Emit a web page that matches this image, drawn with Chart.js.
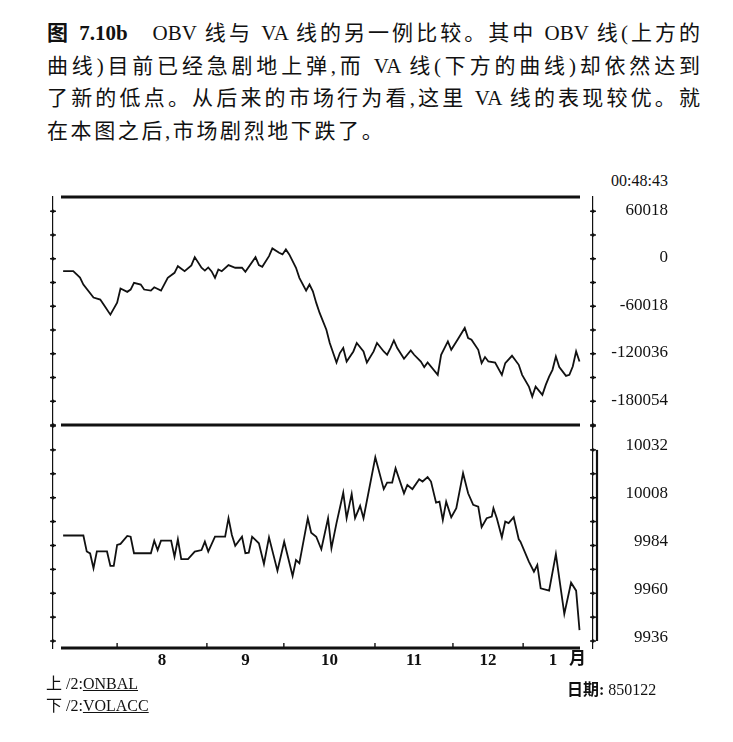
<!DOCTYPE html>
<html>
<head>
<meta charset="utf-8">
<script src="https://cdn.jsdelivr.net/npm/chart.js@4.4.1/dist/chart.umd.min.js"></script>
<style>
  body { margin: 0; background: #fff; width: 733px; height: 742px; overflow: hidden; position: relative;
         color: #111; font-family: "Liberation Serif", "Noto Sans CJK SC", serif; }
  #title { position: absolute; left: 47px; top: 17px; width: 653px; font-size: 21px; line-height: 32.7px; }
  #title .j { text-align: justify; text-align-last: justify; }
  #title .l { letter-spacing: 2.6px; }
  canvas { position: absolute; left: 0; }
  .t { position: absolute; font-size: 16px; line-height: 18px; white-space: nowrap; }
</style>
</head>
<body>
<div id="title">
  <div class="j"><b>图 7.10b</b>&nbsp;&nbsp; OBV 线与 VA 线的另一例比较。其中 OBV 线(上方的</div>
  <div class="j">曲线)目前已经急剧地上弹,而 VA 线(下方的曲线)却依然达到</div>
  <div class="j">了新的低点。从后来的市场行为看,这里 VA 线的表现较优。就</div>
  <div class="l">在本图之后,市场剧烈地下跌了。</div>
</div>
<div class="t" style="right:65px; top:172px;">00:48:43</div>
<canvas id="obv" width="733" height="252" style="top:185px; width:733px; height:252px;"></canvas>
<canvas id="va" width="733" height="268" style="top:414px; width:733px; height:268px;"></canvas>
<div class="t" style="left:569px; top:650px; font-size:17px; font-weight:bold;">月</div>
<div class="t" style="left:46px; top:675px;">上 /2:<u>ONBAL</u></div>
<div class="t" style="left:46px; top:697px;">下 /2:<u>VOLACC</u></div>
<div class="t" style="left:567px; top:681px;"><b>日期:</b> 850122</div>
<script>
// x runs in trading-day units from the first bar of the plot
const monthLabels = ['8', '9', '10', '11', '12', '1'];
const monthStarts = [16, 42.6, 65.4, 92.4, 115.5, 136.3];
const lastDay = 154;

const obvStep = 30009;
const obvTickLabels = [60018, 0, -60018, -120036, -180054];
const vaStep = 12;
const vaTickLabels = [10032, 10008, 9984, 9960, 9936];

// upper curve: ONBAL (OBV)
const obvDays = [
  0, 3, 5, 6, 9, 11, 12, 14, 16, 17,
  19, 20, 21, 23, 24, 26, 27, 29, 31, 33,
  34, 36, 38, 39, 41, 42, 43, 44, 45, 46,
  47, 49, 51, 53, 54, 57, 58, 59, 61, 62,
  64, 65, 66, 67, 69, 70, 72, 73, 74, 75,
  76, 78, 79, 81, 82, 83, 84, 86, 87, 89,
  90, 92, 93, 95, 96, 97, 98, 99, 101, 103,
  104, 106, 107, 108, 111, 112, 114, 115, 117, 119,
  120, 121, 123, 124, 125, 126, 128, 130, 131, 133,
  135, 136, 138, 139, 140, 142, 143, 144, 145, 146,
  147, 149, 150, 151, 152, 153
];
const obvValues = [
  -15720, -15720, -23710, -32580, -49060, -51600, -57940, -70620, -55400, -37650,
  -41840, -38920, -30430, -32580, -38920, -40190, -36010, -40190, -24090, -17750,
  -9380, -15720, -8490, 2030, -11410, -15000, -11000, -16000, -24090, -13570,
  -15720, -8110, -11410, -11410, -16480, 2030, -8110, -10140, 3300, 13060,
  7610, 5450, 11790, 5450, -11410, -24090, -40190, -32580, -41080, -55780,
  -68460, -89630, -106500, -131090, -119170, -112830, -129820, -117140, -106500, -117140,
  -131090, -117140, -106500, -117140, -121330, -112830, -103200, -112830, -126400, -115880,
  -121330, -129820, -136920, -131090, -146680, -121330, -104470, -114990, -101420, -87480,
  -100160, -102310, -114990, -131850, -124240, -129820, -131090, -146680, -131850, -122600,
  -134010, -146680, -161520, -174190, -161520, -172040, -159360, -148840, -140340, -123480,
  -136920, -147950, -146680, -136160, -117140, -129820
];

// lower curve: VOLACC (VA)
const vaDays = [
  0, 6, 7, 8, 9, 10, 13, 14, 15, 16,
  17, 19, 20, 21, 26, 27, 28, 29, 32, 33,
  34, 35, 37, 39, 41, 42, 43, 45, 48, 49,
  50, 51, 53, 54, 55, 56, 58, 59.5, 61, 63.5,
  65.5, 68, 69, 70, 72.5, 73.5, 75, 76.5, 78.5, 79.5,
  81, 83, 84, 85.5, 86.5, 88, 89, 92.5, 95, 96,
  97.5, 98.5, 101, 102, 103.5, 105.5, 106.5, 108, 109, 110.5,
  111.5, 112.5, 113.5, 115, 116.5, 118.5, 120, 121.5, 123, 124,
  125.5, 127, 127.5, 128.5, 130, 131, 132, 133.5, 135, 135.5,
  138, 139.5, 140.5, 141.5, 144, 146, 148.5, 150.5, 152, 153
];
const vaValues = [
  9989, 9989, 9981, 9980, 9972.6, 9981, 9981, 9973.7, 9973.7, 9984.3,
  9984.8, 9988.8, 9988.4, 9980.1, 9980.1, 9986.4, 9981.7, 9986.4, 9986.4, 9978.4,
  9987.1, 9977.1, 9977.1, 9980.9, 9981.7, 9985.9, 9980.9, 9988.4, 9988.4, 9997.7,
  9989.3, 9983.8, 9988.4, 9980.1, 9980.4, 9988.4, 9985.1, 9974.7, 9988.1, 9971.3,
  9985.9, 9968.7, 9976.7, 9975.1, 9997.7, 9990.4, 9988.4, 9982.1, 9997.7, 9982.6,
  9995.2, 10010.5, 9997.7, 10009.9, 9997.7, 10003.9, 9997.7, 10028.3, 10012.3, 10015.6,
  10015.6, 10022.8, 10010.2, 10014.4, 10012.3, 10017.3, 10016.1, 10018.3, 10016.1, 10005.5,
  10006, 9996.8, 10006, 9998.2, 10002.7, 10020.3, 10010.2, 10004.4, 10003.5, 9993.2,
  9997.7, 9998.5, 10002.7, 9997.7, 9988.1, 9996, 9995.2, 9998.2, 9987.1, 9985.9,
  9975.9, 9970.8, 9974.2, 9962.5, 9961.3, 9979.7, 9949.6, 9965.3, 9961.3, 9941.5
];

const monthMids = monthStarts.map((m, i) => (m + (monthStarts[i + 1] ?? lastDay)) / 2);

const ink = '#111';
const serif = 'Liberation Serif';

function yScale(pos, min, max, step, labels, lift) {
  return {
    position: pos, min: min, max: max,
    grid: { display: false },
    border: { display: true, color: ink, width: 1.2, dash: [3, 2] },
    // every multiple of the step inside the range gets a mark
    afterBuildTicks: s => {
      const first = Math.ceil(min / step - 1e-9);
      const ticks = [];
      for (let k = first; k * step <= max; k++) ticks.push({ value: k * step });
      s.ticks = ticks;
    },
    ticks: {
      autoSkip: false, crossAlign: 'far', padding: 0, labelOffset: lift,
      color: ink, font: { family: serif, size: 17 },
      callback: v => (pos === 'right' && labels.includes(v)) ? String(v) : ''
    },
    afterFit: s => { s.width = pos === 'right' ? 75 : 53; }
  };
}

// thick rules, cross tick marks on the dashed axes, month marks
const frame = {
  id: 'frame',
  afterDraw(chart, args, o) {
    const { ctx, chartArea: a, scales } = chart;
    ctx.save();
    ctx.strokeStyle = ink;
    ctx.fillStyle = ink;
    ctx.lineWidth = 3;
    o.rules.forEach(r => {
      const y = r === 'top' ? a.top : a.bottom;
      ctx.beginPath(); ctx.moveTo(a.left + 8, y); ctx.lineTo(a.right - 13, y); ctx.stroke();
    });
    ctx.lineWidth = 1.4;
    ['yl', 'y'].forEach(id => {
      const s = scales[id];
      const x = id === 'y' ? s.left : s.right;
      s.ticks.forEach(t => {
        const py = s.getPixelForValue(t.value);
        ctx.beginPath(); ctx.moveTo(x - 3, py); ctx.lineTo(x + 3, py); ctx.stroke();
        ctx.beginPath(); ctx.arc(x, py, 1.7, 0, 2 * Math.PI); ctx.fill();
      });
    });
    if (o.months) {
      const sx = scales.x;
      monthStarts.forEach(m => {
        const px = sx.getPixelForValue(m);
        ctx.beginPath(); ctx.moveTo(px, a.bottom); ctx.lineTo(px, a.bottom - 5); ctx.stroke();
      });
    }
    if (o.bar) {
      const s = scales.y;
      ctx.lineWidth = 2.2;
      ctx.beginPath();
      ctx.moveTo(s.left + 4, s.getPixelForValue(o.bar[0]));
      ctx.lineTo(s.left + 4, s.getPixelForValue(o.bar[1]));
      ctx.stroke();
    }
    ctx.restore();
  }
};

function lineSet(days, values, axis) {
  return {
    data: days.map((d, i) => ({ x: d, y: values[i] })),
    yAxisID: axis,
    borderColor: ink, borderWidth: 1.8,
    pointRadius: 0, tension: 0, fill: false
  };
}

const common = {
  responsive: false, animation: false,
  plugins: { legend: { display: false }, tooltip: { enabled: false } }
};

new Chart(document.getElementById('obv'), {
  type: 'line',
  data: { datasets: [lineSet(obvDays, obvValues, 'y')] },
  options: {
    ...common,
    layout: { padding: { top: 12, bottom: 12, left: 0, right: 65 } },
    plugins: { ...common.plugins, frame: { rules: ['top', 'bottom'] } },
    scales: {
      x: { type: 'linear', min: -3, max: 157, display: false },
      yl: yScale('left', -210063, 78000, obvStep, obvTickLabels, -1),
      y: yScale('right', -210063, 78000, obvStep, obvTickLabels, -1)
    }
  },
  plugins: [frame]
});

new Chart(document.getElementById('va'), {
  type: 'line',
  data: { datasets: [lineSet(vaDays, vaValues, 'y')] },
  options: {
    ...common,
    layout: { padding: { top: 12, bottom: 0, left: 0, right: 65 } },
    plugins: { ...common.plugins, frame: { rules: ['bottom'], months: true, bar: [10032, 9936] } },
    scales: {
      x: {
        type: 'linear', min: -3, max: 157,
        grid: { display: false }, border: { display: false },
        afterBuildTicks: s => { s.ticks = monthMids.map(v => ({ value: v })); },
        ticks: {
          autoSkip: false, maxRotation: 0, padding: -6, color: ink,
          font: { family: serif, size: 17, weight: 'bold' },
          callback: (v, i) => monthLabels[i]
        },
        afterFit: s => { s.height = 34; }
      },
      yl: yScale('left', 9932.5, 10044, vaStep, vaTickLabels, -4),
      y: yScale('right', 9932.5, 10044, vaStep, vaTickLabels, -4)
    }
  },
  plugins: [frame]
});
</script>
</body>
</html>
